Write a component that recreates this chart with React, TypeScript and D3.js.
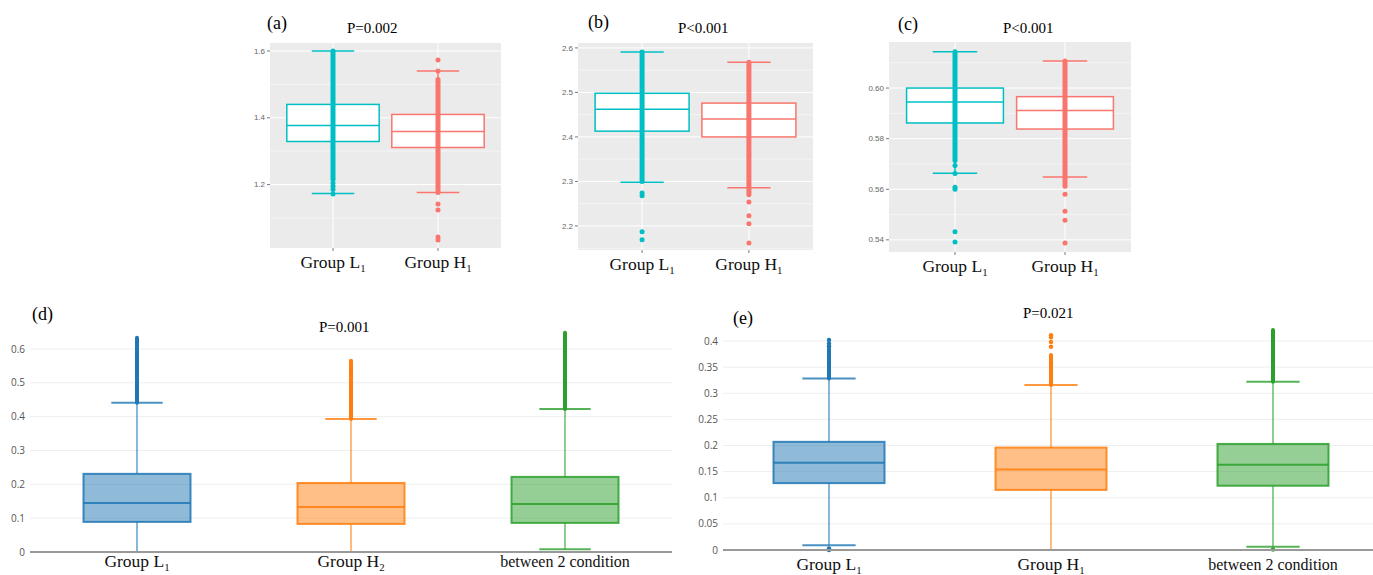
import React from 'react';
import * as d3 from 'd3';

// box stats: [lower whisker, q1, median, q3, upper whisker]
const ggColors = ['#00BFC4', '#F8766D'];
const ggGroups = ['L1', 'H1'];
const ggLabels: [string, string][] = [['Group L', '1'], ['Group H', '1']];

const aTicks = [1.2, 1.4, 1.6];
const aMinor = [1.1, 1.3, 1.5];
const aBoxL1 = [1.173, 1.329, 1.377, 1.44, 1.6];
const aBoxH1 = [1.176, 1.311, 1.359, 1.41, 1.54];
const aDenseL1 = [1.215, 1.6];
const aDenseH1 = [1.176, 1.515];
const aPointsL1 = [1.172, 1.185, 1.195, 1.205];
const aPointsH1 = [1.54, 1.573, 1.142, 1.124, 1.043, 1.034];

const bTicks = [2.2, 2.3, 2.4, 2.5, 2.6];
const bMinor = [2.15, 2.25, 2.35, 2.45, 2.55];
const bBoxL1 = [2.298, 2.413, 2.462, 2.498, 2.591];
const bBoxH1 = [2.286, 2.4, 2.44, 2.476, 2.568];
const bDenseL1 = [2.3, 2.591];
const bDenseH1 = [2.27, 2.568];
const bPointsL1 = [2.274, 2.268, 2.187, 2.169];
const bPointsH1 = [2.254, 2.223, 2.205, 2.162];

const cTicks = [0.54, 0.56, 0.58, 0.6];
const cMinor = [0.55, 0.57, 0.59, 0.61];
const cBoxL1 = [0.5663, 0.5862, 0.5945, 0.6, 0.6143];
const cBoxH1 = [0.5648, 0.5838, 0.5911, 0.5966, 0.6107];
const cDenseL1 = [0.5714, 0.6143];
const cDenseH1 = [0.5612, 0.6107];
const cPointsL1 = [0.5694, 0.5662, 0.5608, 0.56, 0.5432, 0.5392];
const cPointsH1 = [0.558, 0.5513, 0.5477, 0.5388];

const plColors = ['#1f77b4', '#ff7f0e', '#2ca02c'];
const dGroups = ['L1', 'H2', 'between'];
const dLabels: [string, string][] = [['Group L', '1'], ['Group H', '2'], ['between 2 condition', '']];
const dTicks = [0, 0.1, 0.2, 0.3, 0.4, 0.5, 0.6];
const dBoxes = [
  [0, 0.089, 0.145, 0.231, 0.441],
  [0, 0.083, 0.133, 0.204, 0.393],
  [0.008, 0.086, 0.142, 0.222, 0.423],
];
const dDense = [[0.441, 0.633], [0.393, 0.565], [0.423, 0.648]];
const dPoints: number[][] = [[], [], []];

const eGroups = ['L1', 'H1', 'between'];
const eLabels: [string, string][] = [['Group L', '1'], ['Group H', '1'], ['between 2 condition', '']];
const eTicks = [0, 0.05, 0.1, 0.15, 0.2, 0.25, 0.3, 0.35, 0.4];
const eBoxes = [
  [0.009, 0.128, 0.167, 0.207, 0.328],
  [0, 0.115, 0.154, 0.196, 0.316],
  [0.006, 0.123, 0.163, 0.203, 0.322],
];
const eDense = [[0.328, 0.385], [0.316, 0.373], [0.322, 0.421]];
const ePoints = [[0.39, 0.395, 0.402, 0, 0.003], [0.389, 0.398, 0.407, 0.411], [0.001]];

const serif = '"Liberation Serif", "Times New Roman", serif';

const Label = ({ x, y, text, size = 17.5 }: { x: number; y: number; text: [string, string]; size?: number }) => (
  <text x={x} y={y} textAnchor="middle" fontFamily={serif} fontSize={size} fill="#111">
    {text[0]}
    {text[1] && <tspan fontSize={size * 0.62} dy={4}>{text[1]}</tspan>}
  </text>
);

interface GgProps {
  x0: number; x1: number; y0: number; y1: number;
  domain: [number, number];
  ticks: number[]; minor: number[];
  boxes: number[][]; dense: number[][]; points: number[][];
  fmt: string;
}

const GgPanel = ({ x0, x1, y0, y1, domain, ticks, minor, boxes, dense, points, fmt }: GgProps) => {
  const x = d3.scalePoint<string>().domain(ggGroups).range([x0, x1]).padding(0.6);
  const y = d3.scaleLinear().domain(domain).range([y1, y0]);
  const bw = x.step() * 0.88;
  const cw = bw * 0.23;
  const f = d3.format(fmt);
  return (
    <g>
      <rect x={x0} y={y0} width={x1 - x0} height={y1 - y0} fill="#EBEBEB" />
      {minor.map(t => (
        <line key={'m' + t} x1={x0} x2={x1} y1={y(t)} y2={y(t)} stroke="#fff" strokeWidth={0.5} />
      ))}
      {ticks.map(t => (
        <line key={'g' + t} x1={x0} x2={x1} y1={y(t)} y2={y(t)} stroke="#fff" strokeWidth={1} />
      ))}
      {ggGroups.map(g => (
        <line key={'v' + g} x1={x(g)} x2={x(g)} y1={y0} y2={y1} stroke="#fff" strokeWidth={1} />
      ))}
      {ticks.map(t => (
        <g key={'t' + t}>
          <line x1={x0 - 3} x2={x0} y1={y(t)} y2={y(t)} stroke="#555" strokeWidth={0.8} />
          <text x={x0 - 5} y={y(t)} dy="0.33em" textAnchor="end" fontFamily="Liberation Sans, Arial, sans-serif" fontSize={8} fill="#666">
            {f(t)}
          </text>
        </g>
      ))}
      {ggGroups.map(g => (
        <line key={'bt' + g} x1={x(g)} x2={x(g)} y1={y1} y2={y1 + 3} stroke="#555" strokeWidth={0.8} />
      ))}
      {ggGroups.map((g, i) => {
        const [lo, q1, med, q3, hi] = boxes[i];
        const cx = x(g)!;
        const c = ggColors[i];
        return (
          <g key={g}>
            <line x1={cx} x2={cx} y1={y(hi)} y2={y(lo)} stroke={c} strokeWidth={1.5} />
            <line x1={cx - cw} x2={cx + cw} y1={y(hi)} y2={y(hi)} stroke={c} strokeWidth={1.5} />
            <line x1={cx - cw} x2={cx + cw} y1={y(lo)} y2={y(lo)} stroke={c} strokeWidth={1.5} />
            <rect x={cx - bw / 2} y={y(q3)} width={bw} height={y(q1) - y(q3)} fill="#fff" stroke={c} strokeWidth={1.5} />
            <line x1={cx - bw / 2} x2={cx + bw / 2} y1={y(med)} y2={y(med)} stroke={c} strokeWidth={1.5} />
            <line x1={cx} x2={cx} y1={y(dense[i][0])} y2={y(dense[i][1])} stroke={c} strokeWidth={5} strokeLinecap="round" />
            {points[i].map((p, k) => (
              <circle key={k} cx={cx} cy={y(p)} r={2.5} fill={c} />
            ))}
          </g>
        );
      })}
    </g>
  );
};

interface PlProps {
  x0: number; x1: number; gx0: number; gx1: number;
  yZero: number; yTop: number; topVal: number;
  groups: string[]; ticks: number[];
  boxes: number[][]; dense: number[][]; points: number[][];
}

const PlPanel = ({ x0, x1, gx0, gx1, yZero, yTop, topVal, groups, ticks, boxes, dense, points }: PlProps) => {
  const x = d3.scaleBand<string>().domain(groups).range([x0, x1]);
  const y = d3.scaleLinear().domain([0, topVal]).range([yZero, yTop]);
  const bw = x.bandwidth() * 0.5;
  const cw = bw * 0.24;
  return (
    <g>
      {ticks.filter(t => t > 0).map(t => (
        <line key={'g' + t} x1={gx0} x2={gx1} y1={y(t)} y2={y(t)} stroke="#eee" strokeWidth={1} />
      ))}
      {ticks.map(t => (
        <text key={'t' + t} x={gx0 - 5} y={y(t)} dy="0.35em" textAnchor="end" fontFamily="'Open Sans', sans-serif" fontSize={10} fill="#555">
          {String(t)}
        </text>
      ))}
      {groups.map((g, i) => {
        const [lo, q1, med, q3, hi] = boxes[i];
        const cx = x(g)! + x.bandwidth() / 2;
        const c = plColors[i];
        return (
          <g key={g}>
            <line x1={cx} x2={cx} y1={y(hi)} y2={y(q3)} stroke={c} strokeWidth={1.5} opacity={0.7} />
            <line x1={cx} x2={cx} y1={y(q1)} y2={y(lo)} stroke={c} strokeWidth={1.5} opacity={0.7} />
            <line x1={cx - cw} x2={cx + cw} y1={y(hi)} y2={y(hi)} stroke={c} strokeWidth={2} opacity={0.8} />
            <line x1={cx - cw} x2={cx + cw} y1={y(lo)} y2={y(lo)} stroke={c} strokeWidth={2} opacity={0.8} />
            <rect x={cx - bw / 2} y={y(q3)} width={bw} height={y(q1) - y(q3)} fill={c} fillOpacity={0.5} stroke={c} strokeWidth={2} strokeOpacity={0.85} />
            <line x1={cx - bw / 2} x2={cx + bw / 2} y1={y(med)} y2={y(med)} stroke={c} strokeWidth={2} strokeOpacity={0.85} />
            <line x1={cx} x2={cx} y1={y(dense[i][0])} y2={y(dense[i][1])} stroke={c} strokeWidth={4} strokeLinecap="round" />
            {points[i].map((p, k) => (
              <circle key={k} cx={cx} cy={y(p)} r={2.2} fill={c} />
            ))}
          </g>
        );
      })}
      <line x1={gx0} x2={gx1} y1={yZero} y2={yZero} stroke="#999" strokeWidth={2} />
    </g>
  );
};

export default function App() {
  const pA = d3.scalePoint<string>().domain(ggGroups).range([270, 501]).padding(0.6);
  const pB = d3.scalePoint<string>().domain(ggGroups).range([578, 813]).padding(0.6);
  const pC = d3.scalePoint<string>().domain(ggGroups).range([889, 1131]).padding(0.6);
  const pD = d3.scaleBand<string>().domain(dGroups).range([30, 672]);
  const pE = d3.scaleBand<string>().domain(eGroups).range([718, 1384]);

  return (
    <svg width={1373} height={575} style={{ position: 'absolute', left: 0, top: 0, background: '#fff' }}>
      <GgPanel x0={270} x1={501} y0={43} y1={248} domain={[1.01, 1.624]} ticks={aTicks} minor={aMinor}
        boxes={[aBoxL1, aBoxH1]} dense={[aDenseL1, aDenseH1]} points={[aPointsL1, aPointsH1]} fmt=".1f" />
      <GgPanel x0={578} x1={813} y0={43} y1={250} domain={[2.146, 2.611]} ticks={bTicks} minor={bMinor}
        boxes={[bBoxL1, bBoxH1]} dense={[bDenseL1, bDenseH1]} points={[bPointsL1, bPointsH1]} fmt=".1f" />
      <GgPanel x0={889} x1={1131} y0={42} y1={252} domain={[0.5352, 0.6182]} ticks={cTicks} minor={cMinor}
        boxes={[cBoxL1, cBoxH1]} dense={[cDenseL1, cDenseH1]} points={[cPointsL1, cPointsH1]} fmt=".2f" />

      {ggGroups.map((g, i) => <Label key={'la' + g} x={pA(g)!} y={268} text={ggLabels[i]} />)}
      {ggGroups.map((g, i) => <Label key={'lb' + g} x={pB(g)!} y={270} text={ggLabels[i]} />)}
      {ggGroups.map((g, i) => <Label key={'lc' + g} x={pC(g)!} y={272} text={ggLabels[i]} />)}

      <text x={267} y={29} fontFamily={serif} fontSize={18}>(a)</text>
      <text x={347} y={33} fontFamily={serif} fontSize={15}>P=0.002</text>
      <text x={588} y={28} fontFamily={serif} fontSize={18}>(b)</text>
      <text x={678} y={33} fontFamily={serif} fontSize={15}>P&lt;0.001</text>
      <text x={898} y={30} fontFamily={serif} fontSize={18}>(c)</text>
      <text x={1003} y={33} fontFamily={serif} fontSize={15}>P&lt;0.001</text>

      <PlPanel x0={30} x1={672} gx0={30} gx1={672} yZero={552} yTop={349} topVal={0.6}
        groups={dGroups} ticks={dTicks} boxes={dBoxes} dense={dDense} points={dPoints} />
      {dGroups.map((g, i) => (
        <Label key={'ld' + g} x={pD(g)! + pD.bandwidth() / 2} y={567} text={dLabels[i]} size={i === 2 ? 16 : 17.5} />
      ))}
      <text x={32} y={320} fontFamily={serif} fontSize={18}>(d)</text>
      <text x={319} y={332} fontFamily={serif} fontSize={15}>P=0.001</text>

      <PlPanel x0={718} x1={1384} gx0={723} gx1={1373} yZero={550} yTop={341} topVal={0.4}
        groups={eGroups} ticks={eTicks} boxes={eBoxes} dense={eDense} points={ePoints} />
      {eGroups.map((g, i) => (
        <Label key={'le' + g} x={pE(g)! + pE.bandwidth() / 2} y={570} text={eLabels[i]} size={i === 2 ? 16 : 17.5} />
      ))}
      <text x={733} y={324} fontFamily={serif} fontSize={18}>(e)</text>
      <text x={1023} y={318} fontFamily={serif} fontSize={15}>P=0.021</text>
    </svg>
  );
}
